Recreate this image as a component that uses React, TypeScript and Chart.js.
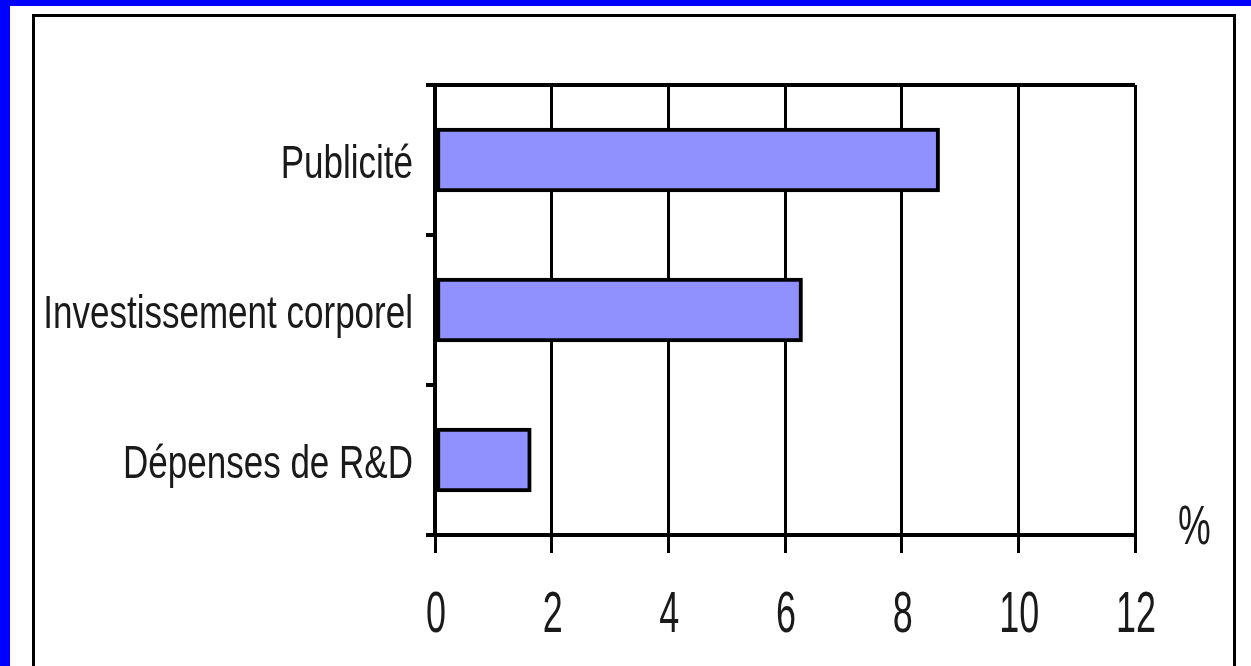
import React, { useEffect, useRef } from "react";
import { Chart, registerables } from "chart.js";

Chart.register(...registerables);

const categories = ["Publicité", "Investissement corporel", "Dépenses de R&D"];
const values = [8.65, 6.3, 1.65];
const xMin = 0;
const xMax = 12;
const xStep = 2;
const unitLabel = "%";

const FONT = "'Liberation Sans', Arial, sans-serif";
const TEXT_COLOR = "#1a1a1a";

// Draws the tick labels through the scales, in a tall narrow face like the reference.
const stretchedLabels = {
  id: "stretchedLabels",
  afterDraw(chart: any) {
    const ctx = chart.ctx as CanvasRenderingContext2D;
    const ys = chart.scales.y;
    const xs = chart.scales.x;
    ctx.save();
    ctx.fillStyle = TEXT_COLOR;
    ctx.textBaseline = "alphabetic";

    ctx.font = `47px ${FONT}`;
    ctx.textAlign = "right";
    ys.ticks.forEach((t: any, i: number) => {
      const py = ys.getPixelForTick(i);
      const label = ys.getLabelForValue(t.value);
      ctx.save();
      ctx.translate(ys.right - 22, py + 18);
      ctx.scale(0.745, 1);
      ctx.fillText(String(label), 0, 0);
      ctx.restore();
    });

    ctx.font = `58px ${FONT}`;
    ctx.textAlign = "center";
    xs.ticks.forEach((t: any, i: number) => {
      const px = xs.getPixelForTick(i);
      ctx.save();
      ctx.translate(px + 1, xs.top + 97);
      ctx.scale(0.62, 1);
      ctx.fillText(String(t.value), 0, 0);
      ctx.restore();
    });

    ctx.font = `55px ${FONT}`;
    ctx.textAlign = "left";
    ctx.save();
    ctx.translate(chart.chartArea.right + 43, xs.top + 9);
    ctx.scale(0.67, 1);
    ctx.fillText(unitLabel, 0, 0);
    ctx.restore();

    ctx.restore();
  },
};

export default function App() {
  const ref = useRef<HTMLCanvasElement>(null);

  useEffect(() => {
    const chart = new Chart(ref.current as HTMLCanvasElement, {
      type: "bar",
      data: {
        labels: categories,
        datasets: [
          {
            data: values,
            backgroundColor: "#9090ff",
            borderColor: "#000000",
            borderWidth: 4,
            barThickness: 64,
            borderSkipped: false,
          },
        ],
      },
      options: {
        indexAxis: "y",
        responsive: false,
        animation: false,
        devicePixelRatio: 1,
        layout: { padding: { top: 85, right: 116, left: 0, bottom: 0 } },
        plugins: { legend: { display: false }, tooltip: { enabled: false } },
        scales: {
          x: {
            type: "linear",
            min: xMin,
            max: xMax,
            ticks: { stepSize: xStep, display: false },
            grid: { color: "#000000", lineWidth: 3, tickLength: 18, tickColor: "#000000" },
            border: { color: "#000000", width: 4 },
            afterFit: (s: any) => {
              s.height = 131;
            },
          },
          y: {
            ticks: { display: false },
            grid: {
              color: (ctx: any) => (ctx.index === 0 ? "#000000" : "rgba(0,0,0,0)"),
              tickColor: "#000000",
              lineWidth: 4,
              tickLength: 9,
            },
            border: { color: "#000000", width: 4 },
            afterFit: (s: any) => {
              s.width = 435;
            },
          },
        },
      },
      plugins: [stretchedLabels],
    } as any);
    return () => chart.destroy();
  }, []);

  return (
    <div
      style={{
        position: "fixed",
        left: 0,
        top: 0,
        width: 1251,
        height: 666,
        background: "#0000ff",
        overflow: "hidden",
      }}
    >
      <div style={{ position: "absolute", left: 10, top: 6, right: 0, bottom: 0, background: "#ffffff" }} />
      <div
        style={{
          position: "absolute",
          left: 32,
          top: 14,
          width: 1204,
          height: 720,
          boxSizing: "border-box",
          borderLeft: "3px solid #000",
          borderTop: "3px solid #000",
          borderRight: "3px solid #000",
        }}
      />
      <canvas
        ref={ref}
        width={1251}
        height={666}
        style={{ position: "absolute", left: 0, top: 0, width: 1251, height: 666 }}
      />
    </div>
  );
}
